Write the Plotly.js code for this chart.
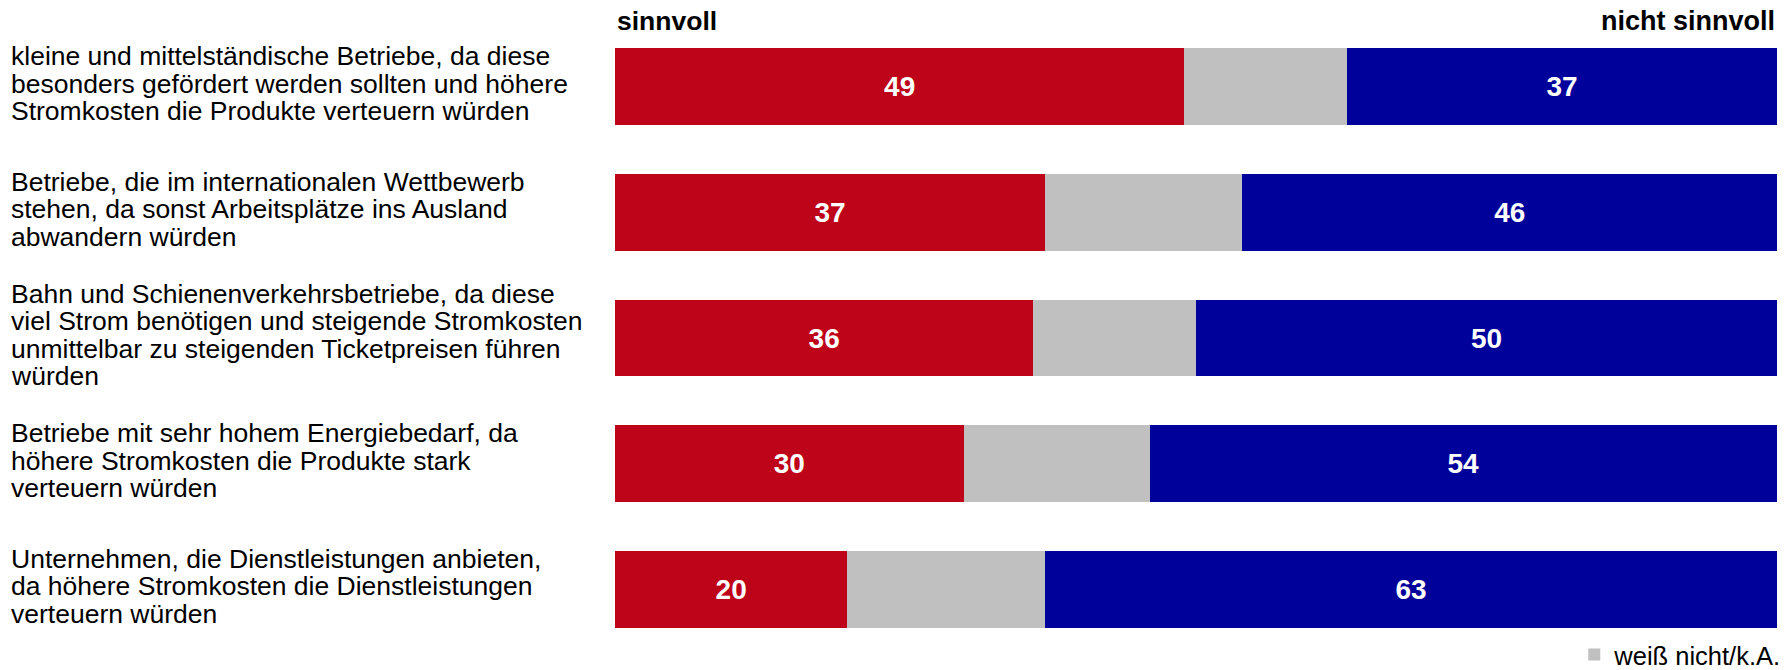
<!DOCTYPE html>
<html><head><meta charset="utf-8">
<script src="https://cdn.plot.ly/plotly-3.0.1.min.js"></script>
<style>html,body{margin:0;padding:0;background:#fff}#chart{width:1792px;height:670px}</style>
</head><body><div id="chart"></div>
<script>
const categories = [
  ["kleine und mittelständische Betriebe, da diese", "besonders gefördert werden sollten und höhere", "Stromkosten die Produkte verteuern würden"],
  ["Betriebe, die im internationalen Wettbewerb", "stehen, da sonst Arbeitsplätze ins Ausland", "abwandern würden"],
  ["Bahn und Schienenverkehrsbetriebe, da diese", "viel Strom benötigen und steigende Stromkosten", "unmittelbar zu steigenden Ticketpreisen führen", "würden"],
  ["Betriebe mit sehr hohem Energiebedarf, da", "höhere Stromkosten die Produkte stark", "verteuern würden"],
  ["Unternehmen, die Dienstleistungen anbieten,", "da höhere Stromkosten die Dienstleistungen", "verteuern würden"]
];
const sinnvoll = [49, 37, 36, 30, 20];
const weissNicht = [14, 17, 14, 16, 17];
const nichtSinnvoll = [37, 46, 50, 54, 63];
const seriesNames = ["sinnvoll", "weiß nicht/k.A.", "nicht sinnvoll"];

const ids = categories.map((c, i) => "c" + i);
const font = "Liberation Sans, Arial, sans-serif";
const barText = {family: font, size: 28, color: "#ffffff", weight: "bold"};

const traces = [
  {type: "bar", orientation: "h", name: seriesNames[0], y: ids, x: sinnvoll,
   marker: {color: "#BE0418"}, text: sinnvoll.map(String), textposition: "inside",
   insidetextanchor: "middle", textfont: barText, showlegend: false, hoverinfo: "skip"},
  {type: "bar", orientation: "h", name: seriesNames[1], y: ids, x: weissNicht,
   marker: {color: "#C0C0C0"}, textposition: "none", showlegend: true, hoverinfo: "skip"},
  {type: "bar", orientation: "h", name: seriesNames[2], y: ids, x: nichtSinnvoll,
   marker: {color: "#00009A"}, text: nichtSinnvoll.map(String), textposition: "inside",
   insidetextanchor: "middle", textfont: barText, showlegend: false, hoverinfo: "skip"}
];

const lineH = 27.4;
const annotations = [];
categories.forEach((lines, i) => {
  const n = lines.length;
  lines.forEach((ln, j) => {
    annotations.push({
      text: ln, xref: "paper", yref: "y", x: (9 - 615) / 1162, y: ids[i],
      yshift: -((j - (n - 1) / 2) * lineH) + 3,
      xanchor: "left", yanchor: "middle", align: "left", showarrow: false,
      font: {family: font, size: 26.5, color: "#000"}
    });
  });
});
annotations.push({text: seriesNames[0], xref: "paper", yref: "paper", x: 0, y: 1, yshift: 3,
  xanchor: "left", yanchor: "middle", showarrow: false,
  font: {family: font, size: 26.5, color: "#000", weight: "bold"}});
annotations.push({text: seriesNames[2], xref: "paper", yref: "paper", x: 1, y: 1, yshift: 3,
  xanchor: "right", yanchor: "middle", showarrow: false,
  font: {family: font, size: 27, color: "#000", weight: "bold"}});

const layout = {
  width: 1792, height: 670,
  margin: {l: 615, r: 15, t: 24, b: 18, pad: 0, autoexpand: false},
  paper_bgcolor: "#fff", plot_bgcolor: "#fff",
  barmode: "stack", bargap: 0.39,
  xaxis: {range: [0, 100], visible: false, fixedrange: true},
  yaxis: {autorange: "reversed", showticklabels: false, showgrid: false, zeroline: false, fixedrange: true},
  showlegend: true,
  legend: {x: 1.008, xanchor: "right", xref: "paper", y: 15 / 670, yref: "container", yanchor: "middle",
    orientation: "h", font: {family: font, size: 25.5, color: "#000"}, bgcolor: "rgba(0,0,0,0)",
    itemwidth: 30, borderwidth: 0},
  annotations: annotations,
  uniformtext: {mode: false}
};
Plotly.newPlot("chart", traces, layout, {staticPlot: true, displayModeBar: false});
</script></body></html>
